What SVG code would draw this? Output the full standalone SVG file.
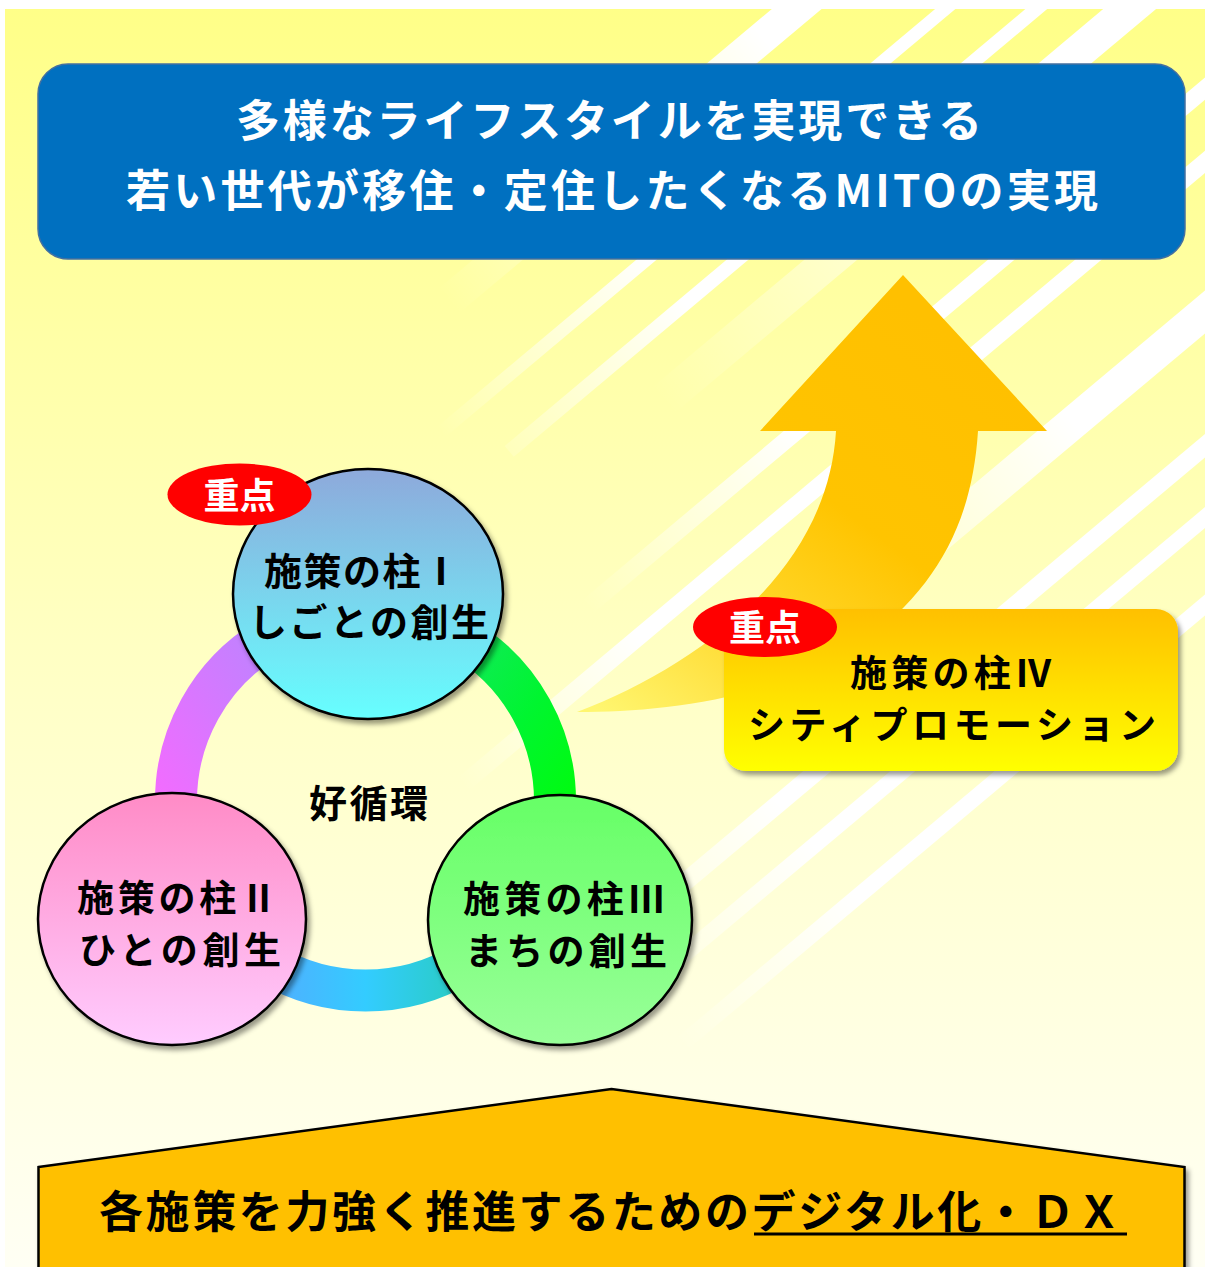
<svg xmlns="http://www.w3.org/2000/svg" width="1205" height="1267" viewBox="0 0 1205 1267">
<style>
.jp{font-family:"Noto Sans CJK JP","Noto Sans CJK SC",sans-serif;font-weight:bold}
.w{fill:#ffffff}
.k{fill:#000000}
.node{stroke:#000;stroke-width:2.5}
</style>
<defs>
<linearGradient id="bg" x1="0" y1="9" x2="0" y2="1267" gradientUnits="userSpaceOnUse">
<stop offset="0" stop-color="#FFFF88"/><stop offset="0.55" stop-color="#FFFFC8"/><stop offset="1" stop-color="#FFFFF4"/>
</linearGradient>
<linearGradient id="gA" x1="150" y1="0" x2="560" y2="0" gradientUnits="userSpaceOnUse"><stop offset="0" stop-color="#fff" stop-opacity="0"/><stop offset="1" stop-color="#fff" stop-opacity="1"/></linearGradient>
<linearGradient id="gA2" x1="250" y1="0" x2="750" y2="0" gradientUnits="userSpaceOnUse"><stop offset="0" stop-color="#fff" stop-opacity="0"/><stop offset="1" stop-color="#fff" stop-opacity="1"/></linearGradient>
<linearGradient id="gB" x1="60" y1="0" x2="330" y2="0" gradientUnits="userSpaceOnUse"><stop offset="0" stop-color="#fff" stop-opacity="0"/><stop offset="1" stop-color="#fff" stop-opacity="1"/></linearGradient>
<linearGradient id="gS7" x1="200" y1="0" x2="550" y2="0" gradientUnits="userSpaceOnUse"><stop offset="0" stop-color="#fff" stop-opacity="0"/><stop offset="1" stop-color="#fff" stop-opacity="1"/></linearGradient>
<linearGradient id="gC" x1="-150" y1="0" x2="80" y2="0" gradientUnits="userSpaceOnUse"><stop offset="0" stop-color="#fff" stop-opacity="0"/><stop offset="1" stop-color="#fff" stop-opacity="1"/></linearGradient>
<linearGradient id="gArrow" x1="903" y1="300" x2="600" y2="712" gradientUnits="userSpaceOnUse">
<stop offset="0" stop-color="#FFC000"/><stop offset="0.4" stop-color="#FFC400"/><stop offset="0.7" stop-color="#FFD92E"/><stop offset="1" stop-color="#FFF670"/>
</linearGradient>
<linearGradient id="gBox4" x1="0" y1="0" x2="0" y2="1"><stop offset="0" stop-color="#FFC000"/><stop offset="1" stop-color="#FFFF00"/></linearGradient>
<linearGradient id="gC1" x1="0" y1="0" x2="0" y2="1"><stop offset="0" stop-color="#8EA9DB"/><stop offset="1" stop-color="#66FFFF"/></linearGradient>
<linearGradient id="gC2" x1="0" y1="0" x2="0" y2="1"><stop offset="0" stop-color="#FF8BC6"/><stop offset="1" stop-color="#FFCCFF"/></linearGradient>
<linearGradient id="gC3" x1="0" y1="0" x2="0" y2="1"><stop offset="0" stop-color="#66FF66"/><stop offset="1" stop-color="#99FF99"/></linearGradient>
<linearGradient id="gRingL" x1="1" y1="0" x2="0" y2="1"><stop offset="0" stop-color="#A090FF"/><stop offset="1" stop-color="#FF66FF"/></linearGradient>
<linearGradient id="gRingR" x1="0" y1="0" x2="1" y2="1"><stop offset="0" stop-color="#22DD88"/><stop offset="0.6" stop-color="#00F530"/><stop offset="1" stop-color="#00FF00"/></linearGradient>
<linearGradient id="gRingB" x1="0" y1="0" x2="1" y2="0"><stop offset="0" stop-color="#6699FF"/><stop offset="0.5" stop-color="#33CCFF"/><stop offset="1" stop-color="#22CC99"/></linearGradient>
<filter id="sh" x="-20%" y="-20%" width="140%" height="140%"><feDropShadow dx="3" dy="4" stdDeviation="2.5" flood-color="#000" flood-opacity="0.4"/></filter>
<clipPath id="bgClip"><rect x="5" y="9" width="1200" height="1258"/></clipPath>
</defs>

<!-- background -->
<rect x="5" y="9" width="1200" height="1258" fill="url(#bg)"/>
<g id="stripes" clip-path="url(#bgClip)">
<g transform="rotate(-40)">
<rect x="100" y="503" width="900" height="32" fill="url(#gA)"/>
<rect x="40" y="608" width="960" height="13" fill="url(#gB)"/>
<rect x="100" y="666" width="900" height="14" fill="url(#gB)"/>
<rect x="200" y="716" width="800" height="34" fill="url(#gA2)"/>
<rect x="40" y="834" width="960" height="17" fill="url(#gB)"/>
<rect x="-200" y="890" width="1200" height="17" fill="url(#gC)"/>
<rect x="150" y="997" width="850" height="33" fill="url(#gS7)"/>
<rect x="-200" y="1107" width="1200" height="18" fill="url(#gC)"/>
<rect x="-200" y="1163" width="1200" height="16" fill="url(#gC)"/>
<rect x="-200" y="1230" width="1200" height="16" fill="url(#gC)"/>
</g>
</g>

<!-- title banner -->
<g id="title">
<rect x="38" y="64" width="1147" height="195" rx="30" fill="#0070C0" stroke="#4470A0" stroke-width="1.5"/>
<text class="jp w" x="236" y="137" font-size="44" textLength="746" lengthAdjust="spacing">多様なライフスタイルを実現できる</text>
<text class="jp w" x="126" y="207" font-size="44" textLength="972" lengthAdjust="spacing">若い世代が移住・定住したくなるMITOの実現</text>
</g>

<!-- big arrow -->
<g id="arrow">
<path d="M760,431 L903,275 L1047,431 L978,431 C972,525 935,590 860,645 C770,700 660,712 577,712 C700,665 828,570 836,431 Z" fill="url(#gArrow)"/>
</g>

<!-- connectors: cycle ring -->
<g id="connectors" fill="none" stroke-width="42">
<path d="M365.5,611.5 A189.5,189.5 0 0 1 526.2,901.4" stroke="url(#gRingR)"/>
<path d="M526.2,901.4 A189.5,189.5 0 0 1 204.8,901.4" stroke="url(#gRingB)"/>
<path d="M204.8,901.4 A189.5,189.5 0 0 1 365.5,611.5" stroke="url(#gRingL)"/>
</g>

<g id="cycle-label">
<text class="jp k" x="309" y="817" font-size="38" textLength="119" lengthAdjust="spacing">好循環</text>
</g>

<!-- pillar I -->
<g id="pillar1">
<ellipse cx="368" cy="594" rx="135" ry="125" fill="url(#gC1)" class="node" filter="url(#sh)"/>
<text class="jp k" x="264" y="585" font-size="38" textLength="196" lengthAdjust="spacing">施策の柱Ⅰ</text>
<text class="jp k" x="249" y="636" font-size="38" textLength="240" lengthAdjust="spacing">しごとの創生</text>
</g>
<g id="badge1">
<ellipse cx="239.5" cy="494.5" rx="72" ry="31" fill="#FF0000"/>
<text class="jp w" x="239.5" y="509" font-size="36" text-anchor="middle">重点</text>
</g>

<!-- pillar II -->
<g id="pillar2">
<ellipse cx="172" cy="919" rx="134" ry="126" fill="url(#gC2)" class="node" filter="url(#sh)"/>
<text class="jp k" x="77" y="912" font-size="37" textLength="200" lengthAdjust="spacing">施策の柱Ⅱ</text>
<text class="jp k" x="79" y="964" font-size="37" textLength="202" lengthAdjust="spacing">ひとの創生</text>
</g>

<!-- pillar III -->
<g id="pillar3">
<ellipse cx="560" cy="920" rx="132" ry="125" fill="url(#gC3)" class="node" filter="url(#sh)"/>
<text class="jp k" x="463" y="913" font-size="37" textLength="202" lengthAdjust="spacing">施策の柱Ⅲ</text>
<text class="jp k" x="465" y="965" font-size="37" textLength="202" lengthAdjust="spacing">まちの創生</text>
</g>

<!-- pillar IV -->
<g id="pillar4">
<rect x="724" y="609" width="454" height="162" rx="22" fill="url(#gBox4)" filter="url(#sh)"/>
<text class="jp k" x="850" y="687" font-size="37" textLength="202" lengthAdjust="spacing">施策の柱Ⅳ</text>
<text class="jp k" x="748" y="739" font-size="37" textLength="408" lengthAdjust="spacing">シティプロモーション</text>
</g>
<g id="badge4">
<ellipse cx="765" cy="627" rx="72" ry="30" fill="#FF0000"/>
<text class="jp w" x="765" y="641" font-size="36" text-anchor="middle">重点</text>
</g>

<!-- foundation -->
<g id="foundation">
<polygon points="38.5,1167 611.5,1089 1184.5,1167 1184.5,1280 38.5,1280" fill="#FFC000" stroke="#000" stroke-width="2.5" filter="url(#sh)"/>
<text class="jp k" x="99" y="1228" font-size="44" textLength="1022" lengthAdjust="spacing">各施策を力強く推進するためのデジタル化・ＤＸ</text>
<line x1="754" y1="1234" x2="1127" y2="1234" stroke="#000" stroke-width="3"/>
</g>
</svg>
